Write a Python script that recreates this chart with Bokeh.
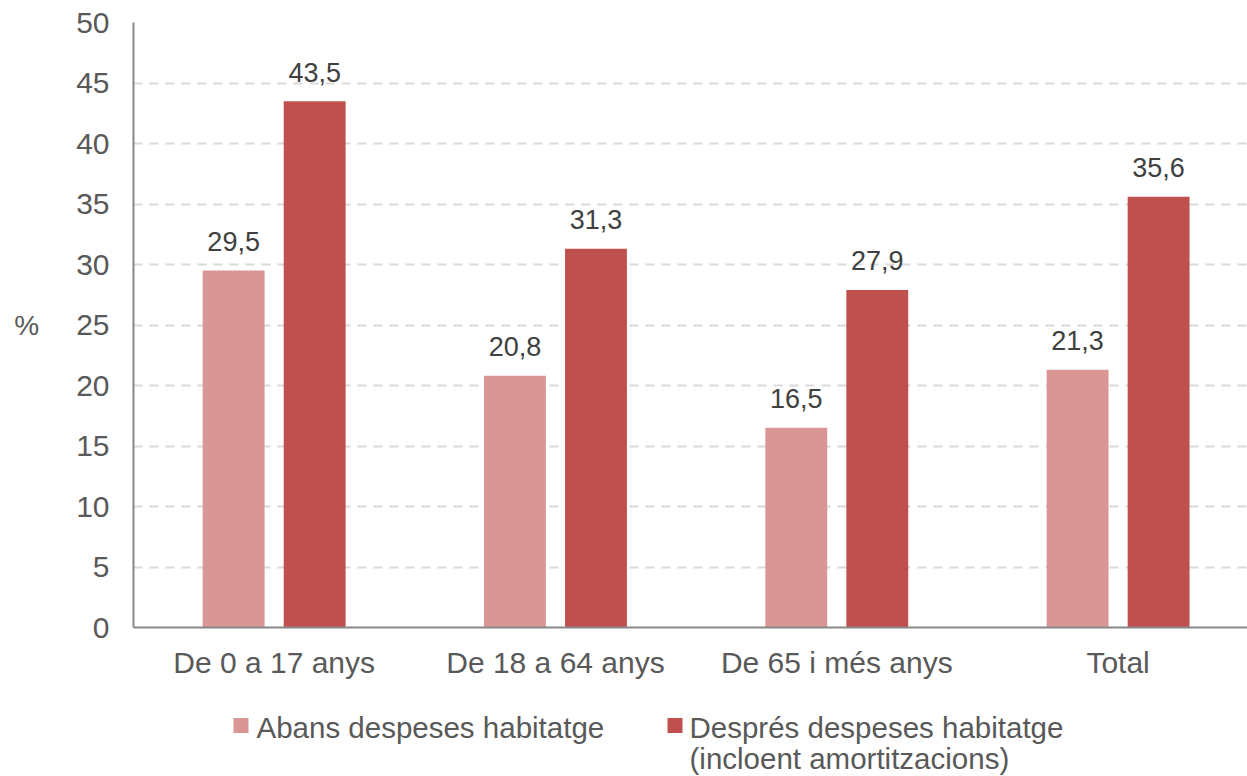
from bokeh.plotting import figure
from bokeh.layouts import column
from bokeh.models import ColumnDataSource, Range1d, FixedTicker
from bokeh.core.properties import value
from bokeh.embed import file_html
from bokeh.resources import INLINE

categories = ["De 0 a 17 anys", "De 18 a 64 anys", "De 65 i més anys", "Total"]
series_names = ["Abans despeses habitatge", "Després despeses habitatge\n(incloent amortitzacions)"]
abans = [29.5, 20.8, 16.5, 21.3]
despres = [43.5, 31.3, 27.9, 35.6]
y_ticks = [0, 5, 10, 15, 20, 25, 30, 35, 40, 45, 50]

colors = ["#D99694", "#C0504D"]
FONT = "Liberation Sans"
W = 1247
LEFT = 133

centers = [i + 0.5 for i in range(len(categories))]
off = 0.144
bw = 0.22

def fmt(v):
    return f"{v:.1f}".replace(".", ",")

src_a = ColumnDataSource(dict(x=[c - off for c in centers], top=abans, lab=[fmt(v) for v in abans]))
src_d = ColumnDataSource(dict(x=[c + off for c in centers], top=despres, lab=[fmt(v) for v in despres]))

p = figure(width=W, height=690, output_backend="svg", toolbar_location=None,
           x_range=Range1d(0, 3.96), y_range=Range1d(0, 50),
           min_border_left=LEFT, min_border_right=0, min_border_top=22, min_border_bottom=63)
p.outline_line_color = None
p.background_fill_color = "white"
p.border_fill_color = "white"

p.vbar(x="x", top="top", width=bw, source=src_a, fill_color=colors[0], line_color=None)
p.vbar(x="x", top="top", width=bw, source=src_d, fill_color=colors[1], line_color=None)

for s in (src_a, src_d):
    p.text(x="x", y="top", text="lab", source=s, text_align="center", text_baseline="alphabetic",
           y_offset=-29, text_font=value(FONT), text_font_size="27px", text_color="#404040")

p.xgrid.grid_line_color = None
p.ygrid.grid_line_color = "#D9D9D9"
p.ygrid.grid_line_width = 2
p.ygrid.grid_line_dash = "9 7"

p.yaxis.ticker = FixedTicker(ticks=y_ticks)
p.xaxis.ticker = FixedTicker(ticks=centers)
p.xaxis.major_label_overrides = {c: lab for c, lab in zip(centers, categories)}

for ax in (p.xaxis, p.yaxis):
    ax.axis_line_color = "#888888"
    ax.axis_line_width = 2
    ax.major_tick_line_color = None
    ax.minor_tick_line_color = None
    ax.major_tick_out = 0
    ax.major_tick_in = 0
    ax.minor_tick_out = 0
    ax.major_label_text_font = FONT
    ax.major_label_text_font_size = "30px"
    ax.major_label_text_color = "#595959"
p.xaxis.major_label_standoff = 18
p.yaxis.major_label_standoff = 24

p.yaxis.axis_label = "%"
p.yaxis.axis_label_orientation = "horizontal"
p.yaxis.axis_label_text_font = FONT
p.yaxis.axis_label_text_font_style = "normal"
p.yaxis.axis_label_text_font_size = "28px"
p.yaxis.axis_label_text_color = "#595959"
p.yaxis.axis_label_standoff = 34

# legend panel (pixel coordinates; frame aligned with the chart frame)
LH = 86
leg = figure(width=W, height=LH, output_backend="svg", toolbar_location=None,
             x_range=Range1d(LEFT, W), y_range=Range1d(0, LH),
             min_border_left=LEFT, min_border_right=0, min_border_top=0, min_border_bottom=0)
leg.axis.visible = False
leg.grid.visible = False
leg.outline_line_color = None
leg.background_fill_color = "white"
leg.border_fill_color = "white"

leg_src = ColumnDataSource(dict(gx=[240.5, 674.5], gy=[51, 51], color=colors,
                                tx=[256, 689], ty=[66, 66], label=series_names))
leg.rect(x="gx", y="gy", width=15, height=15, fill_color="color", line_color=None, source=leg_src)
leg.text(x="tx", y="ty", text="label", source=leg_src, text_align="left", text_baseline="top",
         text_font=value(FONT), text_font_size="29.5px", text_color="#595959", text_line_height=0.95)

layout = column(p, leg, spacing=0)
open("out.html", "w").write(file_html(layout, INLINE))
